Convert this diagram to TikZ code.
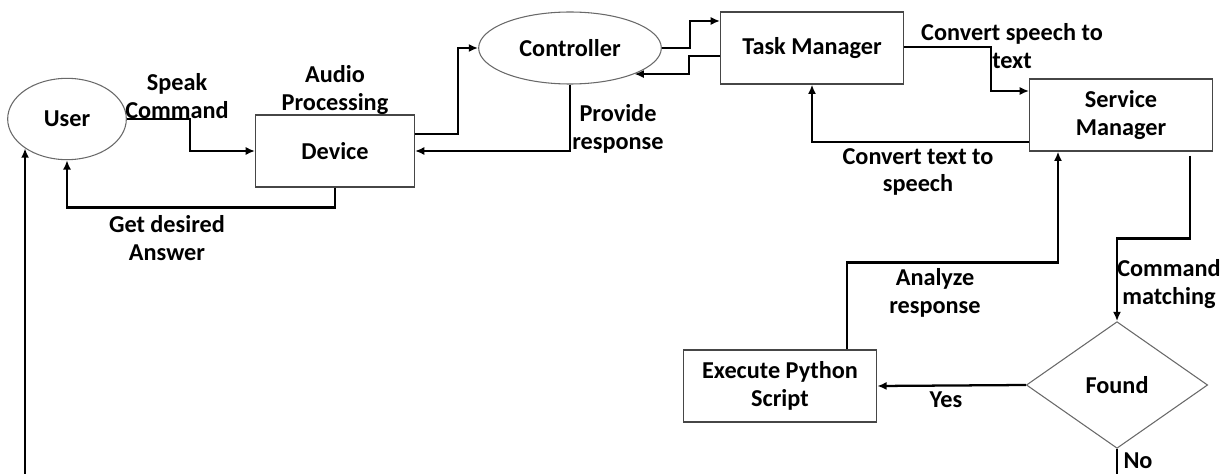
\documentclass[tikz,border=0pt]{standalone}
\usepackage{fontspec}
\setmainfont{Carlito}
\usepackage{tikz}
\usetikzlibrary{shapes.geometric, arrows.meta, calc}
\definecolor{EdgeGray}{RGB}{70,70,70}
\definecolor{OvalGray}{RGB}{105,105,105}

\begin{document}
\begin{tikzpicture}[x=0.75pt,y=-0.75pt,
    txt/.style={font=\fontsize{18.2}{20.5}\selectfont\bfseries,align=center},
    box/.style={txt,draw=EdgeGray,line width=0.9pt,inner sep=0pt},
    oval/.style={txt,ellipse,draw=OvalGray,line width=0.8pt,inner sep=0pt},
    decide/.style={txt,diamond,draw=OvalGray,line width=0.8pt,inner sep=0pt},
    lbl/.style={txt,inner sep=0pt},
    arrow/.style={-{Latex[length=7pt,width=6pt]},line width=1.7pt,black},
    wire/.style={line width=1.7pt,black}]

    \useasboundingbox (0,0) rectangle (1220,474);

    % Components
    \node[oval,minimum width=89pt,minimum height=61pt] (user) at (67,119) {User};
    \node[box,minimum width=119pt,minimum height=54pt] (dev) at (335,151) {Device};
    \node[oval,minimum width=137pt,minimum height=54pt] (ctrl) at (570,48) {Controller};
    \node[box,minimum width=137pt,minimum height=54pt] (task) at (812,48) {Task Manager};
    \node[box,minimum width=137pt,minimum height=54pt] (serv) at (1121,115) {Service\\Manager};
    \node[box,minimum width=145pt,minimum height=54pt] (exec) at (780,386) {Execute Python\\Script};
    \node[decide,minimum width=136pt,minimum height=95pt] (found) at (1117,385) {Found};

    % Loose ends running off the bottom
    \coordinate (loopin) at (user.215 |- 0,474);
    \coordinate (noend) at (1117,474);

    % User <-> Device
    \draw[arrow] (user.east) -- ++(63,0) |- (dev.west);
    \node[lbl] (speak) at (177,96) {Speak\\Command};
    \draw[arrow] (dev.south) -- ++(0,20) -| (user.south);
    \node[lbl] (answer) at (167,238) {Get desired\\Answer};
    \draw[arrow] (loopin) -- (loopin |- user.215);

    % Device <-> Controller
    \node[lbl] (audio) at (335,90) {Audio\\Processing};
    \draw[arrow] ($(dev.east)+(0,-17)$) -- ++(43,0) |- (ctrl.west);
    \draw[arrow] (ctrl.south) |- (dev.east);
    \node[lbl] (provide) at (618,129) {Provide\\response};

    % Controller <-> Task Manager
    \draw[arrow] (ctrl.east) -- ++(28,0) |- ($(task.west)+(0,-27)$);
    \draw[arrow] ($(task.west)+(0,8)$) -- ++(-31,0) |- (ctrl.-22);

    % Task Manager <-> Service Manager
    \draw[arrow] ($(task.east)+(0,-1)$) -- ++(87,0) |- ($(serv.west)+(0,-24)$);
    \node[lbl] (stt) at (1012,46) {Convert speech to\\text};
    \draw[arrow] ($(serv.west)+(0,27)$) -| (task.south);
    \node[lbl] (tts) at (918,172) {Convert text to\\speech};

    % Matching and execution
    \draw[arrow] ($(serv.south)+(69,4)$) -- ++(0,83) -| (found.north);
    \node[lbl] (match) at (1169,284) {Command\\matching};
    \draw[arrow] (found.west) -- (exec.east);
    \node[lbl] (yes) at (946,400) {Yes};
    \draw[wire] (found.south) -- (noend);
    \node[lbl] (no) at (1138,461) {No};
    \draw[arrow] ($(exec.north)+(67,0)$) -- ++(0,-87) -| ($(serv.south)+(-63,0)$);
    \node[lbl] (analyze) at (935,293) {Analyze\\response};
  \end{tikzpicture}
\end{document}
